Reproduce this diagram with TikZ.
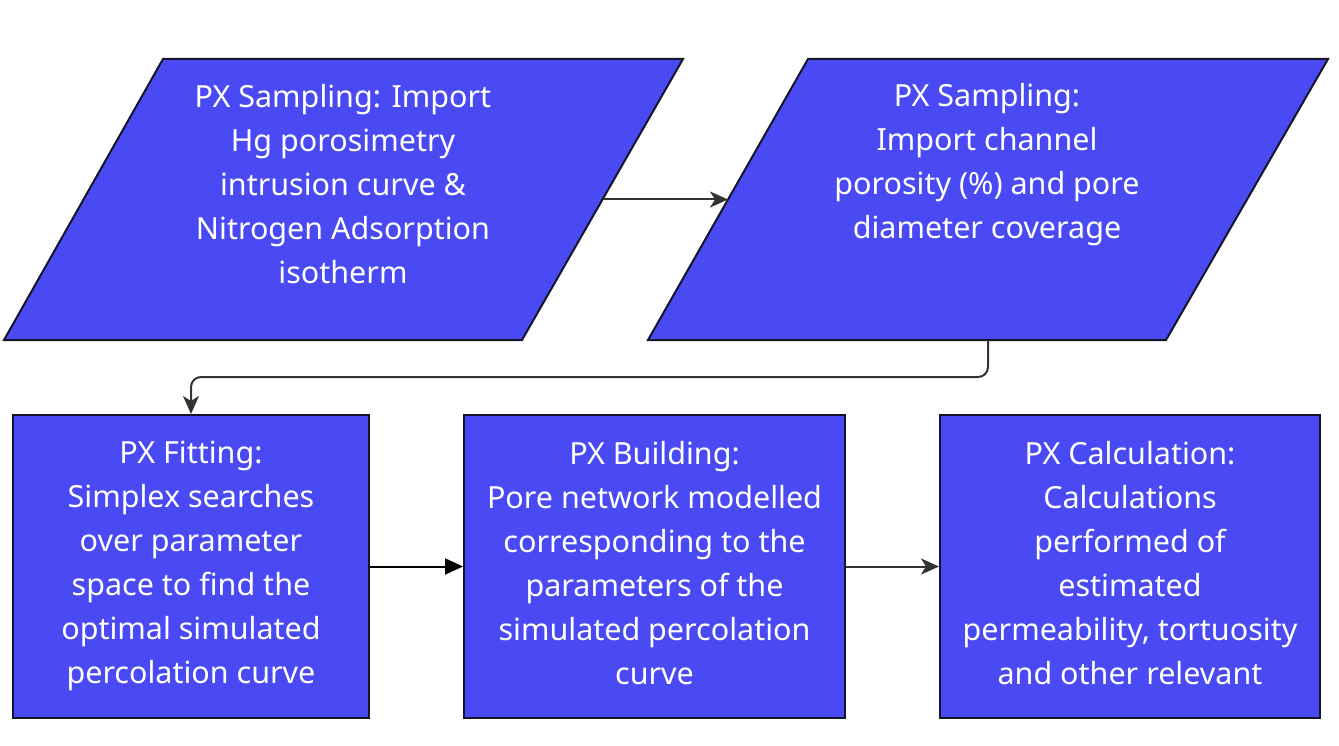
\documentclass[tikz,border=0pt]{standalone}
\usepackage{fontspec}
\setmainfont{Noto Sans}
\usetikzlibrary{arrows.meta}
\definecolor{boxfill}{HTML}{4A4AF4}
\definecolor{boxline}{HTML}{15152A}
\definecolor{arr}{HTML}{333333}
\begin{document}
\begin{tikzpicture}[x=1pt,y=-1pt,
  shapebox/.style={draw=boxline,line width=2pt,fill=boxfill},
  label/.style={text=white,align=center,font=\fontsize{30.5}{44}\selectfont,inner sep=0pt},
  conn/.style={draw=arr,line width=2pt,-{Stealth[length=18pt,width=16pt,inset=5pt]}},
  connb/.style={draw=black,line width=2pt,-{Triangle[length=18pt,width=16pt]}}]
\useasboundingbox (0,0) rectangle (1339,746);
% parallelogram 1
\coordinate (p1a) at (163,59); \coordinate (p1b) at (683,59);
\coordinate (p1c) at (522,340); \coordinate (p1d) at (4,340);
\path[shapebox] (p1a) -- (p1b) -- (p1c) -- (p1d) -- cycle;
\coordinate (p1out) at (603,199.5);
% parallelogram 2
\coordinate (p2a) at (808,59); \coordinate (p2b) at (1328,59);
\coordinate (p2c) at (1166,340); \coordinate (p2d) at (648,340);
\path[shapebox] (p2a) -- (p2b) -- (p2c) -- (p2d) -- cycle;
\coordinate (p2in) at (728,199.5);
\coordinate (p2out) at (988,340);
% labels
\node[label] (t1) at (343,184) {PX Sampling: Import\\Hg porosimetry\\intrusion curve \&\\Nitrogen Adsorption\\isotherm};
\node[label] (t2) at (987,165) {PX Sampling:\\Import channel\\porosity (\%) and pore\\diameter coverage};
% boxes
\node[shapebox,minimum width=356pt,minimum height=303pt,inner sep=0pt] (b1) at (191,566.5) {};
\node[shapebox,minimum width=381pt,minimum height=303pt,inner sep=0pt] (b2) at (654.5,566.5) {};
\node[shapebox,minimum width=380pt,minimum height=303pt,inner sep=0pt] (b3) at (1130,566.5) {};
\node[label] (t3) at (191,566) {PX Fitting:\\Simplex searches\\over parameter\\space to find the\\optimal simulated\\percolation curve};
\node[label] (t4) at (654.5,563) {PX Building:\\Pore network modelled\\corresponding to the\\parameters of the\\simulated percolation\\curve};
\node[label] (t5) at (1130,563) {PX Calculation:\\Calculations\\performed of\\estimated\\permeability, tortuosity\\and other relevant};
% connectors
\draw[conn] (p1out) -- (p2in);
\draw[conn,rounded corners=10pt] (p2out) -- (988,377) -- (191,377) -- (b1.north);
\draw[connb] (b1.east) -- (b2.west);
\draw[conn] (b2.east) -- (b3.west);
\end{tikzpicture}
\end{document}
